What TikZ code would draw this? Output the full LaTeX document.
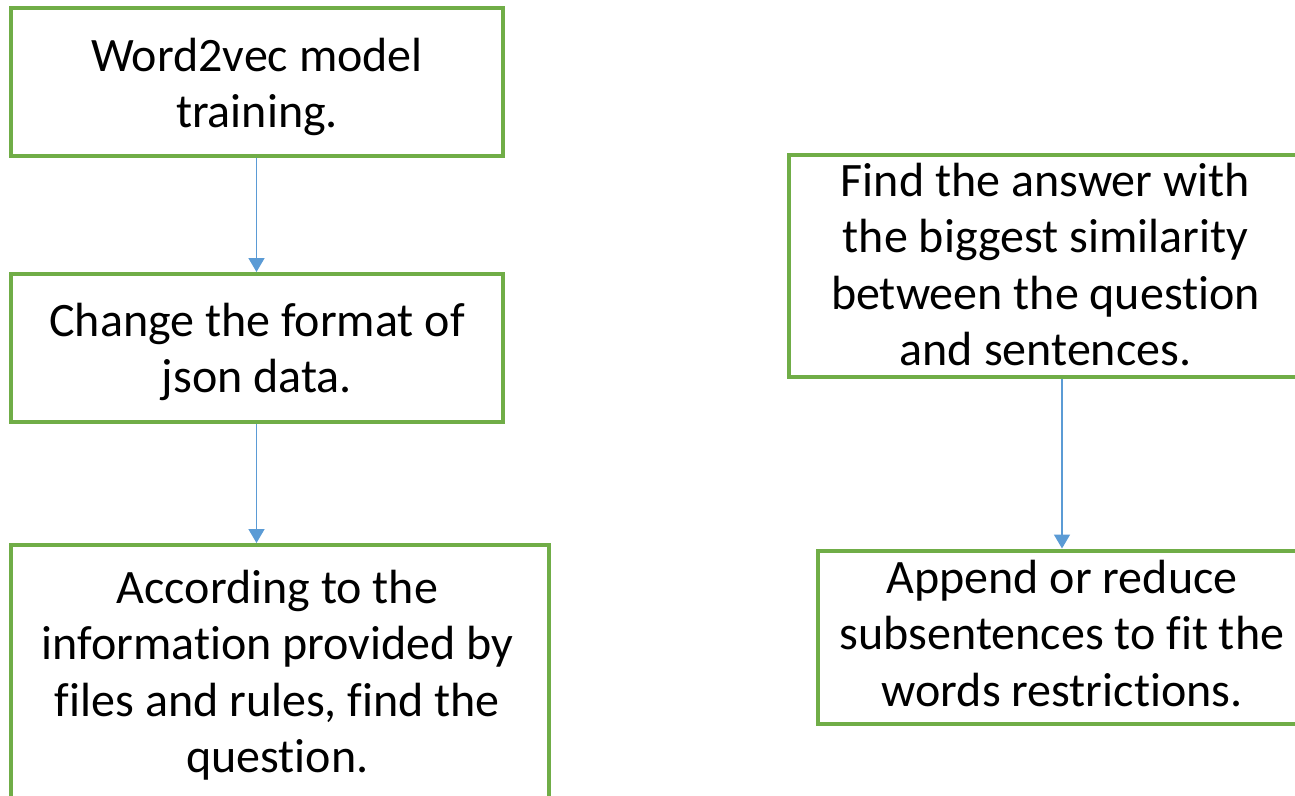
\documentclass[tikz,border=0pt]{standalone}
\usepackage{fontspec}
\setmainfont{Carlito}[Ligatures={NoCommon}]
\usetikzlibrary{arrows.meta}
\definecolor{boxgreen}{HTML}{70AD47}
\definecolor{arrowblue}{HTML}{5B9BD5}
\tikzset{
  flowbox/.style={draw=boxgreen, line width=4pt, rectangle, inner sep=0pt, fill=white},
  flowtext/.style={anchor=base, inner sep=0pt, font=\fontsize{48}{56.5}\selectfont},
  flowarrow/.style={draw=arrowblue, line width=1.6pt, -{Triangle[width=16pt,length=14pt]}}
}
\newcommand{\boxlines}[1]{\begin{tabular}[t]{@{}c@{}}#1\end{tabular}}
\begin{document}
\begin{tikzpicture}[x=1pt,y=-1pt]
\useasboundingbox (0,0) rectangle (1295,795);
\clip (0,0) rectangle (1295,795);
\fill[white] (0,0) rectangle (1295,795);
% boxes
\node[flowbox, minimum width=492pt, minimum height=148pt] (b1) at (256.5,81.5) {};
\node[flowbox, minimum width=492pt, minimum height=148pt] (b2) at (256.5,348) {};
\node[flowbox, minimum width=537.5pt, minimum height=295pt] (b3) at (280,692.5) {};
\node[flowbox, minimum width=513pt, minimum height=222pt] (b4) at (1045.5,266) {};
\node[flowbox, minimum width=489pt, minimum height=173pt] (b5) at (1062,637) {};
% texts
\node[flowtext] (t1) at (257,71) {\boxlines{Word2vec model\\training.}};
\node[flowtext] (t2) at (257,336) {\boxlines{Change the format of\\json data.}};
\node[flowtext] (t3) at (277.5,603) {\boxlines{According to the\\information provided by\\files and rules, find the\\question.}};
\node[flowtext] (t4) at (1045.5,196) {\boxlines{Find the answer with\\the biggest similarity\\between the question\\and sentences.}};
\node[flowtext] (t5) at (1062,593) {\boxlines{Append or reduce\\subsentences to fit the\\words restrictions.}};
% arrows
\draw[flowarrow] (b1.south) -- (b2.north);
\draw[flowarrow] (b2.south) -- (b3.north -| b2.south);
\draw[flowarrow] (b4.south -| b5.north) -- (b5.north);
\end{tikzpicture}
\end{document}
